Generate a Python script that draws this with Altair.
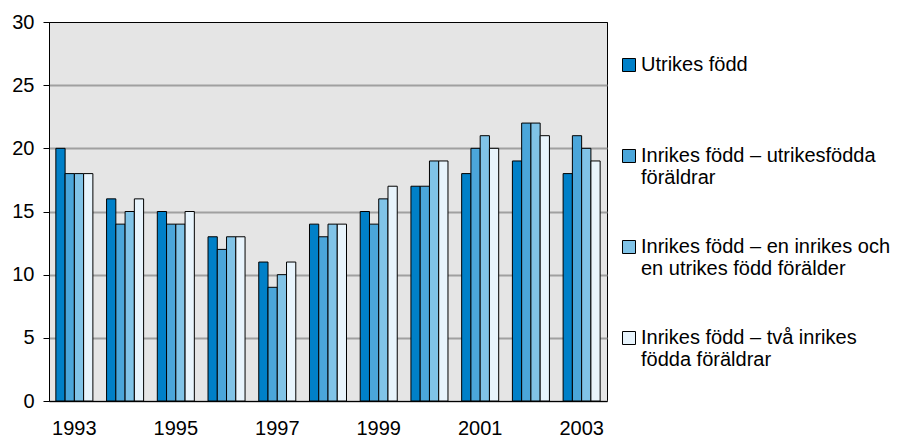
import altair as alt
import pandas as pd

years = [str(y) for y in range(1993, 2004)]
series = [
    "Utrikes född",
    "Inrikes född – utrikesfödda föräldrar",
    "Inrikes född – en inrikes och en utrikes född förälder",
    "Inrikes född – två inrikes födda föräldrar",
]
legend_lines = [
    ["Utrikes född"],
    ["Inrikes född – utrikesfödda", "föräldrar"],
    ["Inrikes född – en inrikes och", "en utrikes född förälder"],
    ["Inrikes född – två inrikes", "födda föräldrar"],
]
v1 = [20, 16, 15, 13, 11, 14, 15, 17, 18, 19, 18]
v2 = [18, 14, 14, 12, 9, 13, 14, 17, 20, 22, 21]
v3 = [18, 15, 14, 13, 10, 14, 16, 19, 21, 22, 20]
v4 = [18, 16, 15, 13, 11, 14, 17, 19, 20, 21, 19]
colors = ["#0080c8", "#4ba6da", "#80c3e7", "#e8f4fc"]
y_ticks = [0, 5, 10, 15, 20, 25, 30]

rows = []
for s, vals in zip(series, [v1, v2, v3, v4]):
    for yr, v in zip(years, vals):
        rows.append({"year": yr, "series": s, "value": v})
df = pd.DataFrame(rows)

# legend label expression: two lines each, so that all entries have equal height
expr = "''"
for s, lines in reversed(list(zip(series, legend_lines))):
    parts = lines + ([""] if len(lines) == 1 else [])
    arr = "[" + ", ".join("'" + p + "'" for p in parts) + "]"
    expr = f"datum.label == '{s}' ? {arr} : ({expr})"

FONT = "Liberation Sans"
FS = 20

x_enc = alt.X(
    "year:N",
    sort=years,
    scale=alt.Scale(paddingInner=0.27, paddingOuter=0.135),
    axis=alt.Axis(
        title=None, labelAngle=0, ticks=False, tickSize=0, labelPadding=17,
        labelExpr="parseInt(datum.value) % 2 == 1 ? datum.label : ''",
        domainColor="black", domainWidth=1, grid=False,
        labelFont=FONT, labelFontSize=FS, labelColor="black",
    ),
)
y_enc = alt.Y(
    "value:Q",
    scale=alt.Scale(domain=[0, 30]),
    axis=alt.Axis(
        title=None, values=y_ticks, tickSize=6, tickColor="black", labelPadding=9,
        domainColor="black",
        gridColor={"condition": {"test": "datum.value == 30", "value": "black"}, "value": "#a0a0a0"},
        gridWidth={"condition": {"test": "datum.value == 30", "value": 1}, "value": 2},
        labelFont=FONT, labelFontSize=FS, labelColor="black",
    ),
)
xoff = alt.XOffset("series:N", sort=series, scale=alt.Scale(domain=series))

bars = alt.Chart(df).mark_bar(stroke="black", strokeWidth=1).encode(
    x=x_enc,
    y=y_enc,
    xOffset=xoff,
    color=alt.Color(
        "series:N",
        scale=alt.Scale(domain=series, range=colors),
        legend=alt.Legend(
            title=None, orient="none", legendX=570, legendY=33,
            symbolType="square", symbolSize=169, symbolStrokeColor="black",
            symbolStrokeWidth=1, symbolOpacity=1, labelOffset=2,
            labelExpr=expr, labelLimit=400, rowPadding=49, padding=0,
            labelFont=FONT, labelFontSize=FS, labelColor="black",
        ),
    ),
)

chart = (
    bars
    .properties(width=558, height=379, padding={"left": 3, "top": 4, "right": 2, "bottom": 0},
                background="white")
    .configure_view(fill="#e5e5e5", stroke="black", strokeWidth=1)
)

chart.save("out.html", embed_options={"renderer": "svg", "actions": False})
